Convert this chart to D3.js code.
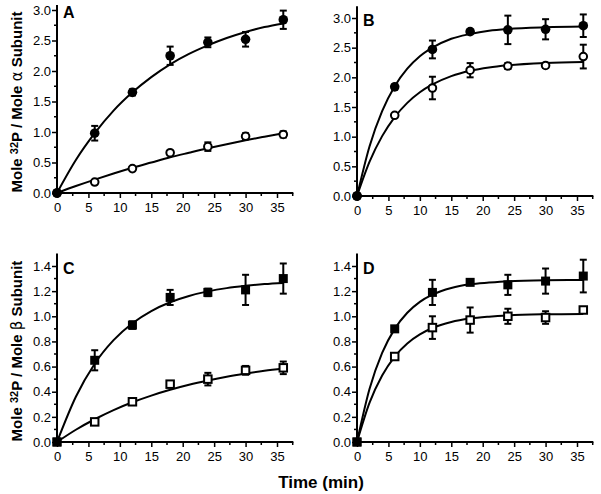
<!DOCTYPE html>
<html>
<head>
<meta charset="utf-8">
<script src="https://cdn.jsdelivr.net/npm/d3@7"></script>
<style>
  body { margin: 0; background: #fff; }
  text { font-family: "Liberation Sans", Arial, Helvetica, sans-serif; }
</style>
</head>
<body>
<div id="chart"></div>
<script>
// sampling times (min)
const times = [0, 6, 12, 18, 24, 30, 36];
const xTicks = [0, 5, 10, 15, 20, 25, 30, 35];

// panel A (alpha subunit)
const aFilled = [0, 0.98, 1.65, 2.25, 2.47, 2.52, 2.84];
const aFilledErr = [0, 0.12, 0.05, 0.15, 0.08, 0.12, 0.15];
const aOpen = [0, 0.18, 0.40, 0.66, 0.76, 0.93, 0.96];
const aOpenErr = [0, 0.02, 0.03, 0.03, 0.07, 0.05, 0.05];
// panel B (alpha subunit)
const bFilled = [0, 1.84, 2.47, 2.77, 2.80, 2.81, 2.87];
const bFilledErr = [0, 0.04, 0.15, 0.03, 0.24, 0.17, 0.19];
const bOpen = [0, 1.36, 1.82, 2.12, 2.19, 2.20, 2.35];
const bOpenErr = [0, 0.03, 0.19, 0.12, 0.05, 0.04, 0.20];
// panel C (beta subunit)
const cFilled = [0, 0.65, 0.93, 1.15, 1.19, 1.21, 1.30];
const cFilledErr = [0, 0.08, 0.03, 0.06, 0.03, 0.12, 0.12];
const cOpen = [0, 0.16, 0.32, 0.46, 0.50, 0.57, 0.59];
const cOpenErr = [0, 0.01, 0.01, 0.01, 0.05, 0.035, 0.05];
// panel D (beta subunit)
const dFilled = [0, 0.90, 1.19, 1.27, 1.25, 1.28, 1.32];
const dFilledErr = [0, 0.02, 0.10, 0.02, 0.08, 0.10, 0.13];
const dOpen = [0, 0.68, 0.91, 0.97, 1.00, 0.99, 1.05];
const dOpenErr = [0, 0.01, 0.09, 0.10, 0.06, 0.05, 0.02];

// fitted curves
const fitTimesSlow = [0, 3, 6, 9, 12, 15, 18, 21, 24, 27, 30, 33, 36];
const fitTimesFast = [0, 2, 4, 6, 8, 10, 12, 15, 18, 21, 24, 30, 36];
const aFilledFit = [0, 0.54, 0.98, 1.35, 1.65, 1.90, 2.11, 2.28, 2.42, 2.54, 2.64, 2.72, 2.78];
const aOpenFit = [0, 0.114, 0.22, 0.32, 0.414, 0.50, 0.585, 0.66, 0.733, 0.80, 0.864, 0.923, 0.98];
const bFilledFit = [0, 0.84, 1.43, 1.85, 2.145, 2.355, 2.50, 2.65, 2.73, 2.785, 2.816, 2.844, 2.855];
const bOpenFit = [0, 0.578, 1.009, 1.33, 1.57, 1.748, 1.88, 2.02, 2.11, 2.167, 2.203, 2.242, 2.259];
const cFilledFit = [0, 0.36, 0.623, 0.81, 0.945, 1.042, 1.112, 1.162, 1.198, 1.224, 1.242, 1.256, 1.265];
const cOpenFit = [0, 0.0975, 0.181, 0.254, 0.316, 0.369, 0.415, 0.455, 0.489, 0.519, 0.544, 0.566, 0.584];
const dFilledFit = [0, 0.424, 0.709, 0.90, 1.028, 1.115, 1.172, 1.225, 1.254, 1.268, 1.279, 1.287, 1.289];
const dOpenFit = [0, 0.313, 0.529, 0.68, 0.784, 0.856, 0.907, 0.955, 0.982, 0.997, 1.007, 1.016, 1.019];

const width = 601;
const height = 494;

const svg = d3.select("#chart").append("svg")
    .attr("width", width)
    .attr("height", height)
    .attr("viewBox", [0, 0, width, height]);

const panels = [
  { label: "A", left: 57, y0: 193, yRef: 3, yRefPx: 10, yTop: 3.08, yTicks: d3.range(0, 3.01, 0.5), yMinor: 0.25, fmt: d3.format(".1f"),
    marker: "circle", fitT: fitTimesSlow, series: [
      { v: aFilled, e: aFilledErr, fit: aFilledFit, open: false },
      { v: aOpen, e: aOpenErr, fit: aOpenFit, open: true }] },
  { label: "B", left: 357, y0: 196, yRef: 3, yRefPx: 18, yTop: 3.2, yTicks: d3.range(0, 3.01, 0.5), yMinor: 0.25, fmt: d3.format(".1f"),
    marker: "circle", fitT: fitTimesFast, series: [
      { v: bFilled, e: bFilledErr, fit: bFilledFit, open: false },
      { v: bOpen, e: bOpenErr, fit: bOpenFit, open: true }] },
  { label: "C", left: 57, y0: 442, yRef: 1.4, yRefPx: 266, yTop: 1.5, yTicks: d3.range(0, 1.41, 0.2), yMinor: 0.1, fmt: d3.format(".1f"),
    marker: "square", fitT: fitTimesSlow, series: [
      { v: cFilled, e: cFilledErr, fit: cFilledFit, open: false },
      { v: cOpen, e: cOpenErr, fit: cOpenFit, open: true }] },
  { label: "D", left: 357, y0: 442, yRef: 1.4, yRefPx: 266, yTop: 1.5, yTicks: d3.range(0, 1.41, 0.2), yMinor: 0.1, fmt: d3.format(".1f"),
    marker: "square", fitT: fitTimesFast, series: [
      { v: dFilled, e: dFilledErr, fit: dFilledFit, open: false },
      { v: dOpen, e: dOpenErr, fit: dOpenFit, open: true }] }
];

panels.forEach(p => {
  const x = d3.scaleLinear([0, 35], [p.left, p.left + 220]);
  const y = d3.scaleLinear([0, p.yRef], [p.y0, p.yRefPx]);
  const g = svg.append("g");

  // axis lines
  g.append("line").attr("x1", x(0)).attr("x2", x(37.6)).attr("y1", y(0)).attr("y2", y(0))
    .attr("stroke", "#000").attr("stroke-width", 2);
  g.append("line").attr("x1", x(0)).attr("x2", x(0)).attr("y1", y(0) + 1).attr("y2", y(p.yTop))
    .attr("stroke", "#000").attr("stroke-width", 2);

  // x axis ticks
  g.append("g")
    .attr("transform", `translate(0,${y(0)})`)
    .call(d3.axisBottom(x).tickValues(xTicks).tickSize(5).tickPadding(5))
    .call(a => a.select(".domain").remove())
    .call(a => a.selectAll(".tick line").attr("stroke-width", 1.5))
    .call(a => a.selectAll("text").attr("font-size", 13).attr("font-family", "Liberation Sans, Arial, sans-serif"));
  g.append("g").selectAll("line")
    .data(d3.range(2.5, 37.6, 5))
    .join("line")
    .attr("x1", d => x(d)).attr("x2", d => x(d))
    .attr("y1", y(0)).attr("y2", y(0) + 3)
    .attr("stroke", "#000").attr("stroke-width", 1.5);

  // y axis ticks
  g.append("g")
    .attr("transform", `translate(${x(0)},0)`)
    .call(d3.axisLeft(y).tickValues(p.yTicks).tickFormat(p.fmt).tickSize(5).tickPadding(1))
    .call(a => a.select(".domain").remove())
    .call(a => a.selectAll(".tick line").attr("stroke-width", 1.5))
    .call(a => a.selectAll("text").attr("font-size", 13).attr("font-family", "Liberation Sans, Arial, sans-serif"));
  g.append("g").selectAll("line")
    .data(p.yTicks.slice(0, -1).map(t => t + p.yMinor))
    .join("line")
    .attr("x1", x(0) - 3).attr("x2", x(0))
    .attr("y1", d => y(d)).attr("y2", d => y(d))
    .attr("stroke", "#000").attr("stroke-width", 1.5);

  // panel letter
  g.append("text")
    .attr("x", x(0) + 6).attr("y", y(p.yRef) + 8)
    .attr("font-size", 16).attr("font-weight", "bold")
    .text(p.label);

  const line = d3.line()
    .x(d => x(d[0]))
    .y(d => y(d[1]))
    .curve(d3.curveMonotoneX);

  p.series.forEach(s => {
    const pts = times.map((t, i) => ({ t, v: s.v[i], e: s.e[i] }));

    // error bars
    const eb = g.append("g").attr("stroke", "#000").attr("stroke-width", 2);
    pts.filter(d => d.e > 0).forEach(d => {
      eb.append("line").attr("x1", x(d.t)).attr("x2", x(d.t)).attr("y1", y(d.v - d.e)).attr("y2", y(d.v + d.e));
      eb.append("line").attr("x1", x(d.t) - 3.5).attr("x2", x(d.t) + 3.5).attr("y1", y(d.v - d.e)).attr("y2", y(d.v - d.e));
      eb.append("line").attr("x1", x(d.t) - 3.5).attr("x2", x(d.t) + 3.5).attr("y1", y(d.v + d.e)).attr("y2", y(d.v + d.e));
    });

    // fitted curve
    g.append("path")
      .attr("fill", "none")
      .attr("stroke", "#000")
      .attr("stroke-width", 2)
      .attr("d", line(p.fitT.map((t, i) => [t, s.fit[i]])));

    s.pts = pts;
  });

  // markers on top
  p.series.forEach(s => {
    s.pts.forEach(d => {
      const filled = !s.open || d.t === 0;
      if (p.marker === "circle") {
        g.append("circle")
          .attr("cx", x(d.t)).attr("cy", y(d.v))
          .attr("r", filled ? 4.8 : 3.8)
          .attr("fill", filled ? "#000" : "#fff")
          .attr("stroke", "#000").attr("stroke-width", filled ? 0 : 2);
      } else {
        const sz = filled ? 9 : 7.5;
        g.append("rect")
          .attr("x", x(d.t) - sz / 2).attr("y", y(d.v) - sz / 2)
          .attr("width", sz).attr("height", sz)
          .attr("fill", filled ? "#000" : "#fff")
          .attr("stroke", "#000").attr("stroke-width", filled ? 0 : 2);
      }
    });
  });
});

// y axis titles
function yTitle(cy, greek) {
  const t = svg.append("text")
    .attr("transform", `translate(22,${cy}) rotate(-90)`)
    .attr("text-anchor", "middle")
    .attr("font-size", 15)
    .attr("font-weight", "bold");
  t.append("tspan").text("Mole ");
  t.append("tspan").attr("font-size", 11).attr("dy", -4).text("32");
  t.append("tspan").attr("dy", 4).text("P / Mole ");
  t.append("tspan").attr("font-weight", "normal").attr("font-family", "DejaVu Sans, sans-serif").text(greek);
  t.append("tspan").text(" Subunit");
}
yTitle(102, "α");
yTitle(351, "β");

// x axis title
svg.append("text")
  .attr("x", 321).attr("y", 488)
  .attr("text-anchor", "middle")
  .attr("font-size", 17)
  .attr("font-weight", "bold")
  .text("Time (min)");
</script>
</body>
</html>
